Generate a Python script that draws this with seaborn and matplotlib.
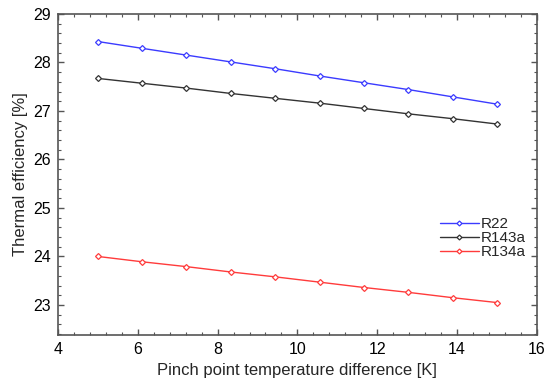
import numpy as np
import pandas as pd
import matplotlib
matplotlib.use("Agg")
import matplotlib.pyplot as plt
import seaborn as sns
from matplotlib.ticker import MultipleLocator

pinch = [5.0, 6.11, 7.22, 8.33, 9.44, 10.56, 11.67, 12.78, 13.89, 15.0]
r22 = [28.43, 28.29, 28.15, 28.01, 27.87, 27.72, 27.58, 27.44, 27.29, 27.14]
r143a = [27.67, 27.57, 27.47, 27.36, 27.26, 27.16, 27.05, 26.94, 26.84, 26.73]
r134a = [24.00, 23.89, 23.79, 23.68, 23.58, 23.47, 23.36, 23.26, 23.15, 23.05]
series_names = ["R22", "R143a", "R134a"]
colors = ["#3b3bff", "#333333", "#ff3b3b"]

df = pd.DataFrame({
    "x": pinch * 3,
    "y": r22 + r143a + r134a,
    "fluid": sum([[n] * len(pinch) for n in series_names], []),
})

sns.set_theme(style="ticks")
plt.rcParams["font.family"] = ["Liberation Sans", "DejaVu Sans"]

fig = plt.figure(figsize=(5.5, 3.86), dpi=100)
ax = fig.add_axes([0.1055, 0.132, 0.8705, 0.832])

sns.lineplot(data=df, x="x", y="y", hue="fluid", palette=colors,
             hue_order=series_names, marker="D", markersize=3.0,
             markerfacecolor="white", markeredgewidth=0.9, linewidth=1.0,
             ax=ax)
for line, c in zip(ax.lines, colors):
    line.set_markeredgecolor(c)

ax.set_xlim(4, 16)
ax.set_ylim(22.38, 29)
ax.xaxis.set_major_locator(MultipleLocator(2))
ax.xaxis.set_minor_locator(MultipleLocator(0.4))
ax.yaxis.set_major_locator(MultipleLocator(1))
ax.yaxis.set_minor_locator(MultipleLocator(0.2))
ax.tick_params(which="both", direction="in", top=True, right=True,
               labeltop=False, labelright=False, colors="#555555",
               labelcolor="black", labelsize=11.5)
ax.tick_params(which="major", length=4, width=1, pad=5)
ax.tick_params(which="minor", length=2.5, width=0.8)
for s in ax.spines.values():
    s.set_color("#555555")
    s.set_linewidth(1.2)

ax.set_xlabel("Pinch point temperature difference [K]", fontsize=12)
ax.set_ylabel("Thermal efficiency [%]", fontsize=12)

leg = ax.legend(loc="upper right", bbox_to_anchor=(0.993, 0.39), frameon=False,
                fontsize=11, handlelength=2.6, handletextpad=0.1,
                labelspacing=0.0, borderpad=0)
for h, c in zip(leg.legend_handles, colors):
    h.set_markeredgecolor(c)
    h.set_markerfacecolor("white")
    h.set_markersize(2.5)

fig.savefig("out.png", dpi=100)
